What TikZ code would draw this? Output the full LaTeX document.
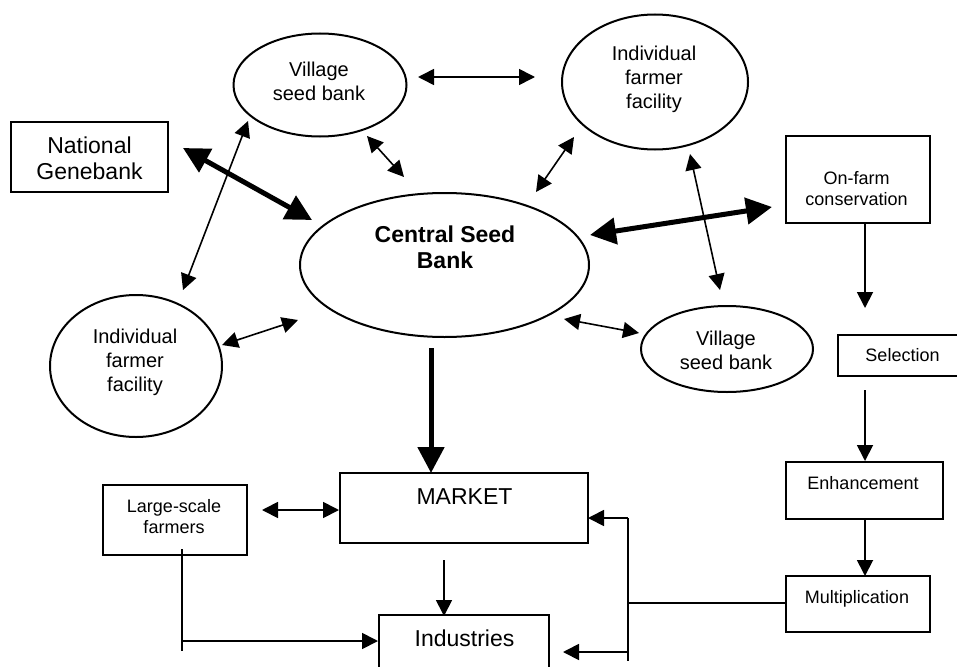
\documentclass[tikz,border=0pt]{standalone}
\usepackage{fontspec}
\setmainfont{Liberation Sans}
\usetikzlibrary{arrows.meta,shapes.geometric,calc}
\begin{document}
\begin{tikzpicture}[x=1pt,y=-1pt,
  ell/.style={draw,ellipse,line width=2pt,inner sep=0pt},
  box/.style={draw,rectangle,line width=1.8pt,inner sep=0pt},
  tS/.style={font=\fontsize{18}{21}\selectfont,align=center,inner sep=0pt},
  tM/.style={font=\fontsize{20}{24}\selectfont,align=center,inner sep=0pt},
  tL/.style={font=\fontsize{23}{26}\selectfont,align=center,inner sep=0pt},
  tLB/.style={font=\fontsize{23}{26}\selectfont\bfseries,align=center,inner sep=0pt},
  thn/.style={line width=1.6pt,>={Triangle[length=16pt,width=16pt]}},
  lin/.style={line width=1.8pt,>={Triangle[length=16pt,width=16pt]}},
  thk/.style={line width=5pt,>={Triangle[length=26pt,width=26pt]}}
]
\useasboundingbox (0,0) rectangle (957,666);
\clip (0,0) rectangle (957,666);

% shapes
\node[ell,minimum width=173pt,minimum height=103pt] (vsbT) at (320,85) {};
\node[ell,minimum width=186pt,minimum height=135pt] (iffT) at (655,82) {};
\node[ell,minimum width=289pt,minimum height=144pt] (csb) at (444.5,265) {};
\node[ell,minimum width=172pt,minimum height=142pt] (iffL) at (136,366) {};
\node[ell,minimum width=172pt,minimum height=86pt] (vsbB) at (727,349) {};
\node[box,minimum width=157pt,minimum height=70pt] (ng) at (89.5,157) {};
\node[box,minimum width=144pt,minimum height=87pt] (of) at (858,179.5) {};
\node[box,minimum width=124pt,minimum height=41pt] (sel) at (900,355.5) {};
\node[box,minimum width=157pt,minimum height=57pt] (enh) at (864.5,490.5) {};
\node[box,minimum width=144pt,minimum height=56pt] (mul) at (858,604) {};
\node[box,minimum width=144pt,minimum height=70pt] (lsf) at (175,520) {};
\node[box,minimum width=248pt,minimum height=70pt] (mkt) at (464,508) {};
\node[box,minimum width=170pt,minimum height=85pt] (ind) at (464,657.5) {};

% texts
\node[tM] (vsbTt) at (319,81) {Village\\seed bank};
\node[tM] (iffTt) at (654,79.5) {Individual\\farmer\\facility};
\node[tLB] (csbt) at (445,247.5) {Central Seed\\Bank};
\node[tM] (iffLt) at (135,362.5) {Individual\\farmer\\facility};
\node[tM] (vsbBt) at (726,350) {Village\\seed bank};
\node[tL] (ngt) at (89.5,158.5) {National\\Genebank};
\node[tS] (oft) at (856.5,188.7) {On-farm\\conservation};
\node[tS] (selt) at (902.5,355.5) {Selection};
\node[tS] (enht) at (863,483) {Enhancement};
\node[tS] (mult) at (857,598.5) {Multiplication};
\node[tS] (lsft) at (174,516.5) {Large-scale\\farmers};
\node[tL] (mktt) at (464.5,497) {MARKET};
\node[tL] (indt) at (464.5,638) {Industries};

% connectors among the seed banks
\draw[thn,<->] ($(vsbT)+(98,-8)$) -- ($(iffT)+(-120,-5)$);
\draw[thk,<->] ($(ng)+(93.5,-9)$) -- ($(csb)+(-132.5,-45)$);
\draw[thn,<->] ($(vsbT)+(-72,36)$) -- ($(iffL)+(47,-76)$);
\draw[thn,<->] ($(vsbT)+(47,51)$) -- ($(csb)+(-40.5,-88)$);
\draw[thn,<->] ($(iffT)+(-81,55)$) -- ($(csb)+(91.5,-73)$);
\draw[thk,<->] ($(csb)+(145.5,-30)$) -- ($(of)+(-86,27.5)$);
\draw[thn,<->] ($(iffT)+(35,72)$) -- ($(vsbB)+(-7,-59)$);
\draw[thn,<->] ($(csb)+(119.5,54)$) -- ($(vsbB)+(-88,-16)$);
\draw[thn,<->] ($(iffL)+(86,-21)$) -- ($(csb)+(-146.5,55)$);

% to market and industries
\draw[thk,->] ($(csb)+(-13.5,83)$) -- ($(mkt)+(-33,-35)$);
\draw[lin,<->] ($(lsf)+(87,-10)$) -- ($(mkt)+(-125,2)$);
\draw[lin,->] ($(mkt)+(-20,52)$) -- ($(ind)+(-20,-41.5)$);
\coordinate (lsfA) at ($(lsf)+(7,29)$);
\coordinate (lsfB) at ($(lsf)+(7,131)$);
\coordinate (lsfC) at ($(lsf)+(7,121)$);
\draw[lin] (lsfA) -- (lsfB);
\draw[lin,->] (lsfC) -- ($(ind)+(-86,-16.5)$);

% on-farm chain
\draw[lin,->] ($(of)+(7,43.5)$) -- ($(sel)+(-35,-47.5)$);
\draw[lin,->] ($(sel)+(-35,34.5)$) -- ($(enh)+(0.5,-29.5)$);
\draw[lin,->] ($(enh)+(0.5,28.5)$) -- ($(mul)+(7,-28)$);

% multiplication distribution
\coordinate (jM) at (628,603);
\coordinate (jTop) at (628,518);
\coordinate (jBot) at (628,661);
\coordinate (jInd) at (628,652);
\draw[lin] (mul.west |- jM) -- (jM);
\draw[lin] (jTop) -- (jBot);
\draw[lin,->] (jTop) -- ($(mkt)+(124,10)$);
\draw[lin,->] (jInd) -- ($(ind)+(99,-5.5)$);
\end{tikzpicture}
\end{document}
